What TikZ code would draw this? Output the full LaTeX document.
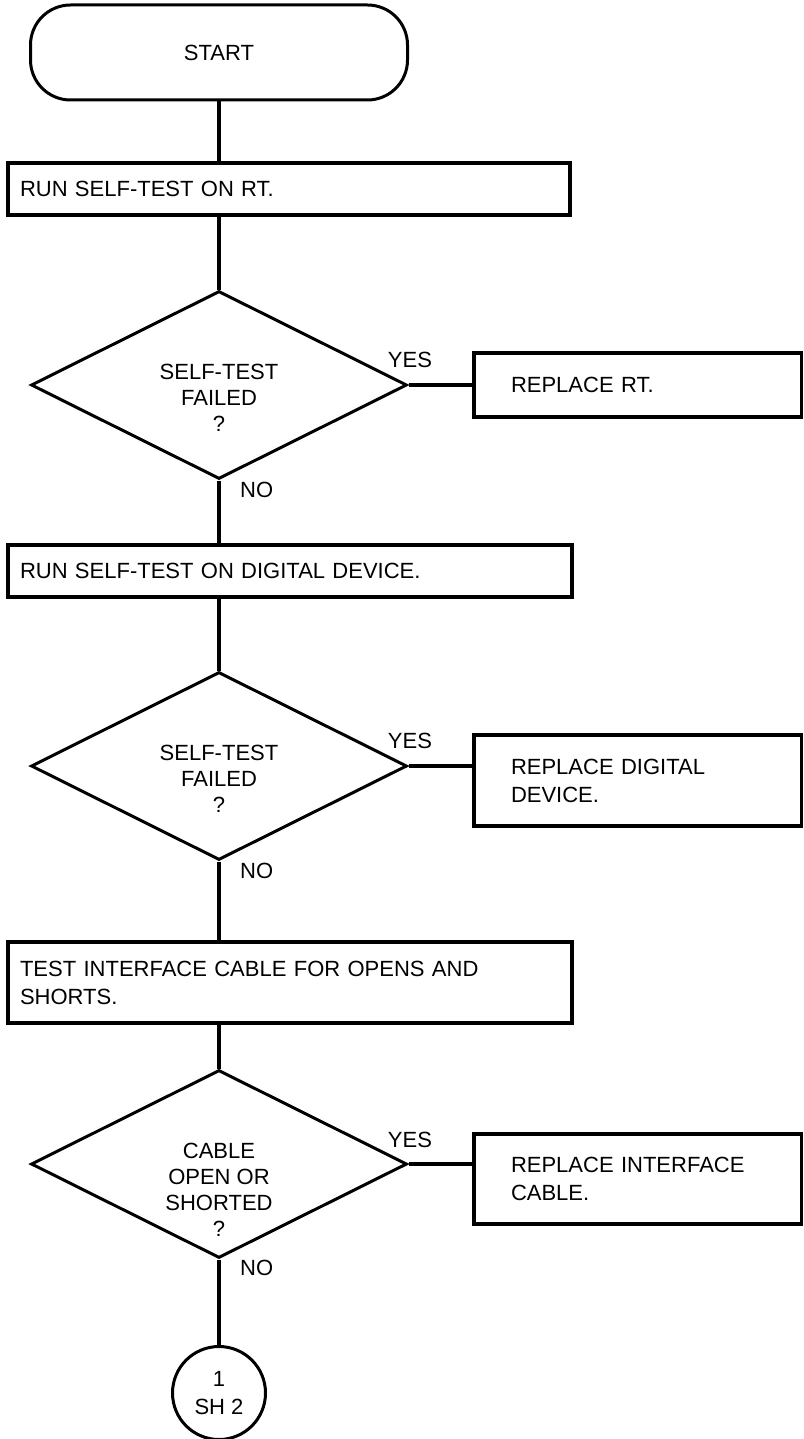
\documentclass[tikz,border=0pt]{standalone}
\usepackage{fontspec}
\setmainfont{Liberation Sans}
\usetikzlibrary{shapes.geometric}
\begin{document}
\begin{tikzpicture}[x=1pt,y=-1pt,
  every node/.style={font=\fontsize{22pt}{28pt}\selectfont},
  ln/.style={line width=4pt},
  hln/.style={line width=3.2pt},
  term/.style={draw, line width=3pt, rounded corners=40pt, minimum width=377pt, minimum height=95pt, inner sep=0pt},
  procbox/.style={draw, line width=3.2pt, align=left, inner xsep=12pt, inner ysep=0pt},
  decis/.style={draw, diamond, line width=3pt, minimum width=376pt, minimum height=188pt, inner sep=0pt},
  dtext/.style={align=center, inner sep=0pt, anchor=north, font=\fontsize{22pt}{26pt}\selectfont},
  lbl/.style={inner sep=0pt},
  conn/.style={draw, circle, line width=3pt, minimum size=93pt, inner sep=0pt, align=center}
]
\useasboundingbox (0,0) rectangle (803,1439);

\node[term] (start) at (219,52.5) {START};
\node[procbox, text width=538pt, minimum height=52pt] (b1) at (289,189) {RUN SELF-TEST ON RT.};

\node[decis] (d1) at (219,385) {};
\node[dtext] (d1t) at ([yshift=21pt]d1.center) {SELF-TEST\\FAILED\\?};
\node[procbox, inner xsep=37pt, text width=253.5pt, minimum height=64pt] (r1) at (637.75,385) {REPLACE RT.};

\node[procbox, text width=540pt, minimum height=52pt] (b2) at (290,571) {RUN SELF-TEST ON DIGITAL DEVICE.};

\node[decis] (d2) at (219,766) {};
\node[dtext] (d2t) at ([yshift=21pt]d2.center) {SELF-TEST\\FAILED\\?};
\node[procbox, inner xsep=37pt, text width=253.5pt, minimum height=91pt] (r2) at (637.75,780.5) {REPLACE DIGITAL\\DEVICE.};

\node[procbox, text width=540pt, minimum height=81pt] (b3) at (290,982.5) {TEST INTERFACE CABLE FOR OPENS AND\\SHORTS.};

\node[decis] (d3) at (219,1164) {};
\node[dtext] (d3t) at ([yshift=21pt]d3.center) {CABLE\\OPEN OR\\SHORTED\\?};
\node[procbox, inner xsep=37pt, text width=253.5pt, minimum height=90pt] (r3) at (637.75,1179) {REPLACE INTERFACE\\CABLE.};

\node[conn] (c1) at (219,1393) {1\\SH 2};

% connectors
\draw[ln] (start.south) -- (start.south |- b1.north);
\draw[ln] (d1.north |- b1.south) -- (d1.north);
\draw[hln] (d1.east) -- (d1.east -| r1.west);
\draw[ln] (d1.south) -- (d1.south |- b2.north);
\draw[ln] (d2.north |- b2.south) -- (d2.north);
\draw[hln] (d2.east) -- (d2.east -| r2.west);
\draw[ln] (d2.south) -- (d2.south |- b3.north);
\draw[ln] (d3.north |- b3.south) -- (d3.north);
\draw[hln] (d3.east) -- (d3.east -| r3.west);
\draw[ln] (d3.south) -- (c1.north);

% labels
\node[lbl] (y1) at (410,360) {YES};
\node[lbl] (y2) at (410,741) {YES};
\node[lbl] (y3) at (410,1140) {YES};
\node[lbl, anchor=west] (n1) at (240,490) {NO};
\node[lbl, anchor=west] (n2) at (240,871) {NO};
\node[lbl, anchor=west] (n3) at (240,1268) {NO};
\end{tikzpicture}
\end{document}
